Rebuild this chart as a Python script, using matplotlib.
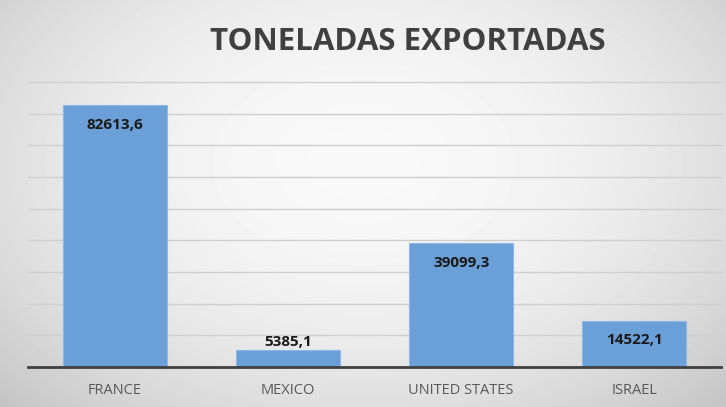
import numpy as np
import matplotlib
matplotlib.use("Agg")
import matplotlib.pyplot as plt

categories = ["FRANCE", "MEXICO", "UNITED STATES", "ISRAEL"]
values = [82613.6, 5385.1, 39099.3, 14522.1]
title = "TONELADAS EXPORTADAS"

W, H = 726, 407
fig = plt.figure(figsize=(W / 100, H / 100), dpi=100)

# radial gray background
bg = fig.add_axes([0, 0, 1, 1], zorder=0)
yy, xx = np.mgrid[0:H, 0:W]
r = np.sqrt(((xx - W * 0.5) / (W * 0.6)) ** 2 + ((yy - H * 0.4) / (H * 0.72)) ** 2)
shade = 0.975 - 0.15 * np.clip(r, 0, 1.2) ** 2
bg.imshow(shade, cmap="gray", vmin=0, vmax=1, aspect="auto", extent=[0, 1, 0, 1])
bg.set_axis_off()

ax = fig.add_axes([28 / W, 1 - 367 / H, (721 - 28) / W, (367 - 82) / H], zorder=1)
ax.patch.set_alpha(0)
x = np.arange(len(categories))
bars = ax.bar(x, values, width=0.6, color="#6B9FD8", edgecolor="#8DB8E6", linewidth=0.8, zorder=3)
ax.set_xlim(-0.5, len(categories) - 0.5)
ax.set_ylim(0, 90000)
ax.set_yticks(np.arange(0, 90001, 10000))
ax.yaxis.grid(True, color="#cfcfcf", linewidth=1.0, zorder=0)
for gl in ax.get_ygridlines():
    gl.set_clip_on(False)
ax.set_axisbelow(True)
ax.tick_params(axis="y", left=False, labelleft=False)
ax.tick_params(axis="x", bottom=False, pad=8, labelsize=10.5, labelcolor="#595959")
ax.set_xticks(x)
ax.set_xticklabels(categories, family="Open Sans")
for s in ["top", "right", "left"]:
    ax.spines[s].set_visible(False)
ax.spines["bottom"].set_color("#404040")
ax.spines["bottom"].set_linewidth(2)
ax.spines["bottom"].set_zorder(4)

for xi, v in zip(x, values):
    lab = f"{v:.1f}".replace(".", ",")
    if v > 10000:
        ax.annotate(lab, (xi, v), xytext=(0, -14), textcoords="offset points",
                    ha="center", va="center", fontsize=11, fontweight="bold",
                    color="#1a1a1a", family="Open Sans", zorder=5)
    else:
        ax.annotate(lab, (xi, v), xytext=(0, 6), textcoords="offset points",
                    ha="center", va="center", fontsize=11, fontweight="bold",
                    color="#1a1a1a", family="Open Sans", zorder=5)

fig.text(408 / W, 1 - 42 / H, title, ha="center", va="center", fontsize=22.5,
         fontweight="bold", color="#404040", family="Open Sans")

fig.savefig("out.png", dpi=100)
